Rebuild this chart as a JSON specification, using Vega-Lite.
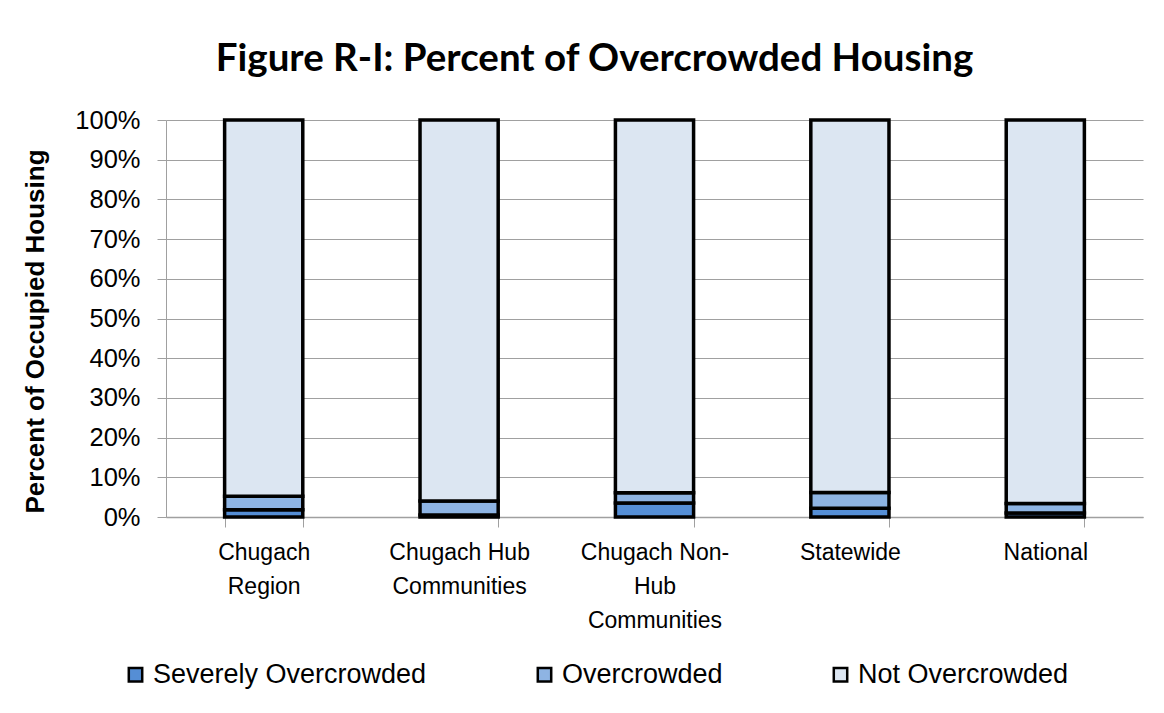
{
  "$schema": "https://vega.github.io/schema/vega-lite/v6.json",
  "width": 977,
  "height": 397,
  "autosize": {"type": "none"},
  "padding": {"left": 166, "top": 120, "right": 21, "bottom": 196},
  "background": "white",
  "title": {
    "text": "Figure R-I: Percent of Overcrowded Housing",
    "font": "Lato",
    "fontSize": 38.5,
    "fontWeight": "bold",
    "color": "#000000",
    "anchor": "middle",
    "dx": -60,
    "offset": 29
  },
  "data": {
    "values": [
      {"area": "Chugach Region", "type": "Severely Overcrowded", "pct": 0.018},
      {"area": "Chugach Region", "type": "Overcrowded", "pct": 0.034},
      {"area": "Chugach Region", "type": "Not Overcrowded", "pct": 0.948},
      {"area": "Chugach Hub Communities", "type": "Severely Overcrowded", "pct": 0.005},
      {"area": "Chugach Hub Communities", "type": "Overcrowded", "pct": 0.035},
      {"area": "Chugach Hub Communities", "type": "Not Overcrowded", "pct": 0.96},
      {"area": "Chugach Non-Hub Communities", "type": "Severely Overcrowded", "pct": 0.035},
      {"area": "Chugach Non-Hub Communities", "type": "Overcrowded", "pct": 0.026},
      {"area": "Chugach Non-Hub Communities", "type": "Not Overcrowded", "pct": 0.939},
      {"area": "Statewide", "type": "Severely Overcrowded", "pct": 0.022},
      {"area": "Statewide", "type": "Overcrowded", "pct": 0.04},
      {"area": "Statewide", "type": "Not Overcrowded", "pct": 0.938},
      {"area": "National", "type": "Severely Overcrowded", "pct": 0.01},
      {"area": "National", "type": "Overcrowded", "pct": 0.024},
      {"area": "National", "type": "Not Overcrowded", "pct": 0.966}
    ]
  },
  "mark": {"type": "bar", "stroke": "#000000", "strokeWidth": 3.5},
  "encoding": {
    "x": {
      "field": "area",
      "type": "nominal",
      "sort": null,
      "scale": {"paddingInner": 0.6, "paddingOuter": 0.3},
      "axis": {
        "title": null,
        "labelAngle": 0,
        "labelFont": "Liberation Sans",
        "labelFontSize": 23,
        "labelColor": "#000000",
        "labelPadding": 14,
        "labelLineHeight": 34,
        "labelExpr": "datum.value == 'Chugach Region' ? ['Chugach', 'Region'] : datum.value == 'Chugach Hub Communities' ? ['Chugach Hub', 'Communities'] : datum.value == 'Chugach Non-Hub Communities' ? ['Chugach Non-', 'Hub', 'Communities'] : datum.value",
        "tickBand": "extent",
        "tickSize": 10,
        "tickColor": "#A0A0A0",
        "domainColor": "#A0A0A0",
        "domainWidth": 1.5,
        "labelLimit": 300
      }
    },
    "y": {
      "field": "pct",
      "type": "quantitative",
      "stack": "zero",
      "scale": {"domain": [0, 1]},
      "axis": {
        "title": "Percent of Occupied Housing",
        "titleFont": "Liberation Sans",
        "titleFontSize": 26,
        "titleFontWeight": "bold",
        "titleColor": "#000000",
        "titlePadding": 26,
        "titleY": 211,
        "format": ".0%",
        "values": [0, 0.1, 0.2, 0.3, 0.4, 0.5, 0.6, 0.7, 0.8, 0.9, 1],
        "labelFont": "Liberation Sans",
        "labelFontSize": 25.5,
        "labelColor": "#000000",
        "labelPadding": 17,
        "tickSize": 9,
        "tickColor": "#A0A0A0",
        "domainColor": "#A0A0A0",
        "gridColor": "#A0A0A0",
        "gridWidth": 1.2
      }
    },
    "color": {
      "field": "type",
      "type": "nominal",
      "scale": {
        "domain": ["Severely Overcrowded", "Overcrowded", "Not Overcrowded"],
        "range": ["#558ED5", "#8EB4E3", "#DCE6F2"]
      },
      "legend": {
        "title": null,
        "orient": "none",
        "legendX": -44,
        "legendY": 541,
        "direction": "horizontal",
        "symbolType": "square",
        "symbolSize": 180,
        "symbolStrokeColor": "#000000",
        "symbolStrokeWidth": 2.5,
        "symbolOpacity": 1,
        "labelFont": "Liberation Sans",
        "labelFontSize": 27,
        "labelColor": "#000000",
        "labelOffset": 4,
        "labelLimit": 400,
        "columnPadding": 104
      }
    },
    "order": {"field": "type", "sort": "descending"}
  },
  "config": {
    "view": {"stroke": null}
  }
}
